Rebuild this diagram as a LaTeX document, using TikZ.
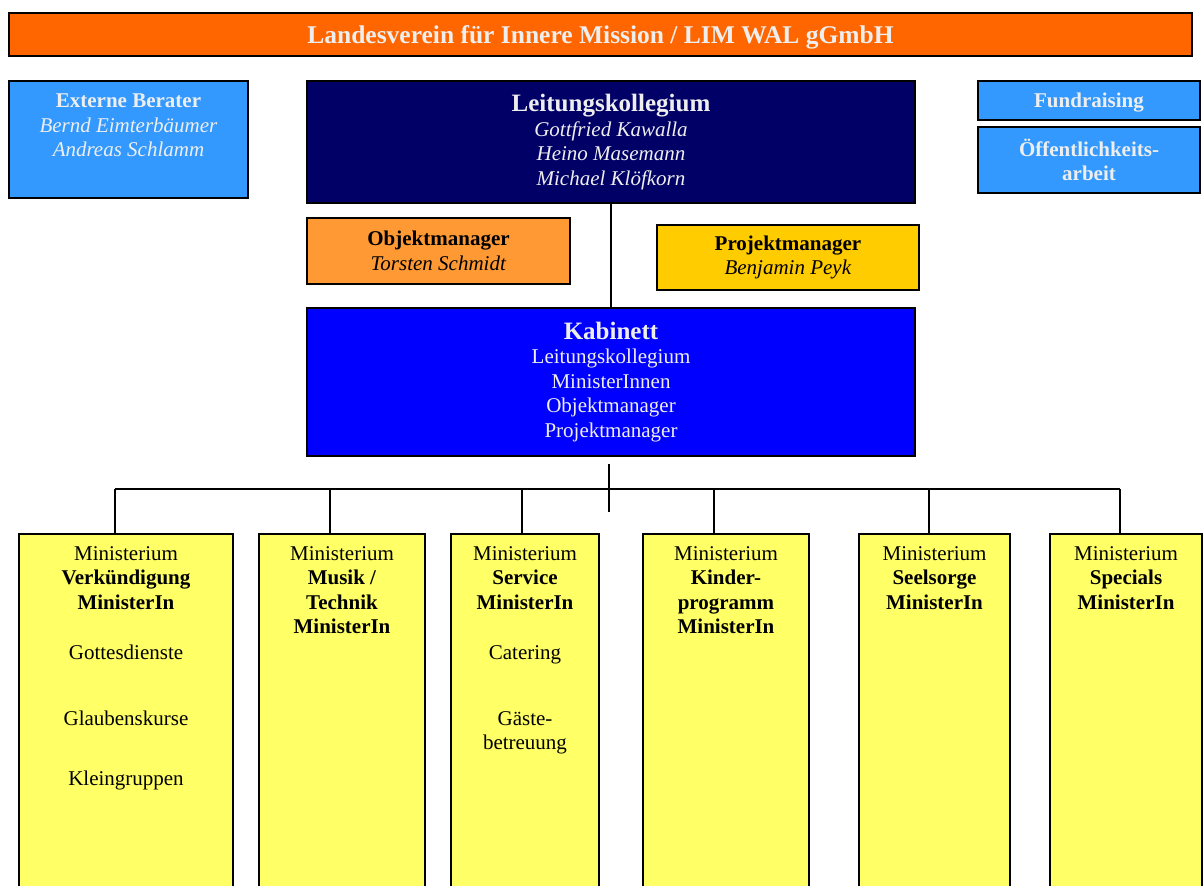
\documentclass[tikz,border=0pt]{standalone}
\usepackage{fontspec}
\setmainfont{Liberation Serif}
\usetikzlibrary{positioning}
\definecolor{limorange}{HTML}{FF6600}
\definecolor{beraterblue}{HTML}{3399FF}
\definecolor{leitungnavy}{HTML}{000066}
\definecolor{objorange}{HTML}{FF9933}
\definecolor{projgold}{HTML}{FFCC00}
\definecolor{kabblue}{HTML}{0000FF}
\definecolor{minyellow}{HTML}{FFFF66}
\definecolor{lighttext}{HTML}{EEEEEE}
\begin{document}
\begin{tikzpicture}[x=1pt,y=-1pt,
 orgbox/.style={draw=black,line width=2pt,anchor=north west,inner sep=0pt,align=center,font=\fontsize{21}{24.5}\selectfont},
 boxtext/.style={inner sep=0pt,anchor=north,align=center,font=\fontsize{21}{24.5}\selectfont},
 bigbf/.style={font=\fontsize{25.5}{28}\selectfont\bfseries},
 linie/.style={line width=1.6pt}]
 \useasboundingbox (0,0) rectangle (1203,886);
 \clip (0,0) rectangle (1203,886);
 % kopfzeile
 \node[orgbox,fill=limorange,text=lighttext,minimum width=1183pt,minimum height=43pt,text depth=0pt,bigbf] (lim) at (8,12) {Landesverein für Innere Mission / LIM WAL gGmbH};
 % obere reihe
 \node[orgbox,fill=beraterblue,minimum width=239pt,minimum height=117pt] (ext) at (8,80) {};
 \node[boxtext,text=lighttext,below=14pt of ext.north] (exttext) {\textbf{Externe Berater}\\ \textit{Bernd Eimterbäumer}\\ \textit{Andreas Schlamm}};
 \node[orgbox,fill=leitungnavy,text=lighttext,minimum width=608pt,minimum height=122pt] (lk) at (306,80) {{\fontsize{25}{28}\selectfont\bfseries Leitungskollegium}\\ \textit{Gottfried Kawalla}\\ \textit{Heino Masemann}\\ \textit{Michael Klöfkorn}};
 \node[orgbox,fill=beraterblue,text=lighttext,minimum width=222pt,minimum height=39pt,text depth=0pt] (fund) at (977,80) {\textbf{Fundraising}};
 \node[orgbox,fill=beraterblue,text=lighttext,minimum width=222pt,minimum height=66pt] (oeff) at (977,126) {\textbf{Öffentlichkeits-}\\ \textbf{arbeit}};
 \node[orgbox,fill=objorange,minimum width=263pt,minimum height=66pt] (obj) at (306,217) {\textbf{Objektmanager}\\ \textit{Torsten Schmidt}};
 \node[orgbox,fill=projgold,minimum width=262pt,minimum height=65pt] (proj) at (656,224) {\textbf{Projektmanager}\\ \textit{Benjamin Peyk}};
 \node[orgbox,fill=kabblue,text=lighttext,minimum width=608pt,minimum height=148pt] (kab) at (306,307) {{\fontsize{25}{28}\selectfont\bfseries Kabinett}\\ Leitungskollegium\\ MinisterInnen\\ Objektmanager\\ Projektmanager};
 % ministerien
 \node[orgbox,fill=minyellow,minimum width=214pt,minimum height=380pt] (m1) at (18,533) {};
 \node[orgbox,fill=minyellow,minimum width=166pt,minimum height=380pt] (m2) at (258,533) {};
 \node[orgbox,fill=minyellow,minimum width=148pt,minimum height=380pt] (m3) at (450,533) {};
 \node[orgbox,fill=minyellow,minimum width=166pt,minimum height=380pt] (m4) at (642,533) {};
 \node[orgbox,fill=minyellow,minimum width=151pt,minimum height=380pt] (m5) at (858,533) {};
 \node[orgbox,fill=minyellow,minimum width=152pt,minimum height=380pt] (m6) at (1049,533) {};
 \node[boxtext,below=13pt of m1.north] (m1text) {Ministerium\\ \textbf{Verkündigung}\\ \textbf{MinisterIn}\\[25.5pt] Gottesdienste\\[41.5pt] Glaubenskurse\\[35.5pt] Kleingruppen};
 \node[boxtext,below=13pt of m2.north] (m2text) {Ministerium\\ \textbf{Musik /}\\ \textbf{Technik}\\ \textbf{MinisterIn}};
 \node[boxtext,below=13pt of m3.north] (m3text) {Ministerium\\ \textbf{Service}\\ \textbf{MinisterIn}\\[25.5pt] Catering\\[41.5pt] Gäste-\\ betreuung};
 \node[boxtext,below=13pt of m4.north] (m4text) {Ministerium\\ \textbf{Kinder-}\\ \textbf{programm}\\ \textbf{MinisterIn}};
 \node[boxtext,below=13pt of m5.north] (m5text) {Ministerium\\ \textbf{Seelsorge}\\ \textbf{MinisterIn}};
 \node[boxtext,below=13pt of m6.north] (m6text) {Ministerium\\ \textbf{Specials}\\ \textbf{MinisterIn}};
 % linien
 \coordinate (kd) at (609,464);
 \coordinate (ke) at (609,512);
 \coordinate (b1) at (115,489);
 \coordinate (b2) at (330,489);
 \coordinate (b3) at (522,489);
 \coordinate (b4) at (714,489);
 \coordinate (b5) at (929,489);
 \coordinate (b6) at (1120,489);
 \draw[linie] (lk.south) -- (kab.north);
 \draw[linie] (kd) -- (ke);
 \draw[linie] (b1) -- (b6);
 \draw[linie] (b1) -- (b1 |- m1.north);
 \draw[linie] (b2) -- (b2 |- m2.north);
 \draw[linie] (b3) -- (b3 |- m3.north);
 \draw[linie] (b4) -- (b4 |- m4.north);
 \draw[linie] (b5) -- (b5 |- m5.north);
 \draw[linie] (b6) -- (b6 |- m6.north);
\end{tikzpicture}
\end{document}
